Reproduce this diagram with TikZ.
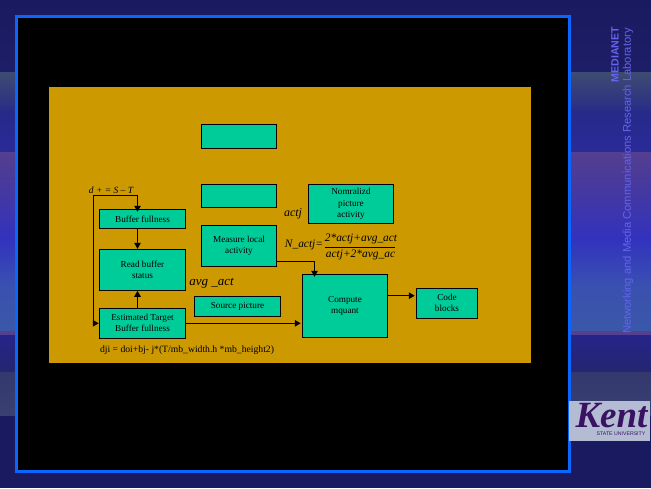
\documentclass[tikz,border=0pt]{standalone}
\usepackage{fontspec}
\setmainfont{Liberation Serif}
\newfontfamily\sidefont{Liberation Sans}
\usetikzlibrary{arrows.meta,calc}
\definecolor{gold}{HTML}{CC9900}
\definecolor{boxfill}{HTML}{00CC99}
\definecolor{framecol}{HTML}{0A66FF}
\definecolor{sidetext}{HTML}{6464EC}
\definecolor{logobg}{HTML}{B4BCD4}
\definecolor{kentpurple}{HTML}{3A1262}
\tikzset{
  x=1pt,y=-1pt,
  box/.style={draw=black,line width=1pt,fill=boxfill,inner sep=0pt,align=center,
    font=\fontsize{9.2}{11}\selectfont},
  wire/.style={draw=black,line width=1pt},
  arrow/.style={wire,-{Triangle[length=6pt,width=6.5pt]}},
  lbl/.style={inner sep=0pt,font=\fontsize{12}{14}\selectfont\itshape},
  frac/.style={inner sep=0pt,font=\fontsize{11.4}{13}\selectfont\itshape},
  side/.style={inner sep=0pt,rotate=90,text=sidetext}
}
% one gradient segment of the backdrop, in 2-unit strips
\newcommand{\bandseg}[4]{%
  \definecolor{segA}{HTML}{#3}\definecolor{segB}{HTML}{#4}%
  \pgfmathtruncatemacro{\segn}{max(1,(#2-#1)/2)}%
  \foreach \i in {1,...,\segn}{%
    \pgfmathsetmacro{\segp}{100*(\i-0.5)/\segn}%
    \pgfmathsetmacro{\sega}{#1+(#2-#1)*(\i-1)/\segn}%
    \pgfmathsetmacro{\segb}{#1+(#2-#1)*\i/\segn+0.3}%
    \fill[segB!\segp!segA] (0,\sega) rectangle (651,\segb);
  }}
\begin{document}
\begin{tikzpicture}
\useasboundingbox (0,0) rectangle (651,488);
% background bands
\bandseg{0}{72}{1A1A60}{1E1E68}
\bandseg{72}{110}{3F4C72}{2A2E84}
\bandseg{110}{152}{262A88}{2A2A98}
\bandseg{152}{190}{54408F}{45389F}
\bandseg{190}{240}{45389F}{3232BE}
\bandseg{240}{285}{3232BE}{3A50B0}
\bandseg{285}{331}{3A50B0}{3A58A8}
\bandseg{331}{335}{54408F}{54408F}
\bandseg{335}{372}{25258A}{252570}
\bandseg{372}{416}{33386E}{3A4070}
\bandseg{416}{488}{1A1A60}{1A1A60}
% frame and panels
\draw[framecol,line width=3pt,fill=black] (16.5,16.5) rectangle (569.5,471.5);
\fill[gold] (49,87) rectangle (531,362.7);
% boxes
\node[box,minimum width=75.5pt,minimum height=24pt] (top) at (239,136.5) {};
\node[box,minimum width=75.5pt,minimum height=23.5pt] (second) at (239,196) {};
\node[box,minimum width=86.5pt,minimum height=19.5pt] (fullness) at (142.5,219) {Buffer fullness};
\node[box,minimum width=86.5pt,minimum height=41pt] (status) at (142.5,269.8) {Read buffer\\[0.5pt]status};
\node[box,minimum width=86.5pt,minimum height=30pt] (target) at (142.5,323.3) {Estimated Target\\Buffer fullness};
\node[box,minimum width=75.5pt,minimum height=41pt] (measure) at (239,245.8) {Measure local\\activity};
\node[box,minimum width=86.5pt,minimum height=20pt] (source) at (237.5,306.3) {Source picture};
\node[box,minimum width=85.5pt,minimum height=39pt] (norm) at (351,203.8) {Nomralizd\\[0.4pt]picture\\[0.4pt]activity};
\node[box,minimum width=85.5pt,minimum height=63pt] (mquant) at (345,305.8) {Compute\\mquant};
\node[box,minimum width=61.5pt,minimum height=30pt] (code) at (447,303.3) {Code\\blocks};
% labels
\node[lbl,font=\fontsize{9.5}{11}\selectfont\itshape] (dse) at (111,190) {d + = S -- T};
\coordinate (corner) at (93.5,195);
\coordinate (branch) at (137.5,195);
\node[lbl] (actj) at (293,213.5) {actj};
\node[lbl,font=\fontsize{13}{15}\selectfont\itshape] (navg) at (211.5,283.5) {avg \_act};
\node[frac] (nact) at (304,245) {N\_actj=};
\node[frac] (numer) at (361,238.5) {2*actj+avg\_act};
\node[frac] (denom) at (360.5,255) {actj+2*avg\_ac};
\draw[black,line width=0.8pt] (325,247.5) -- (395,247.5);
\node[inner sep=0pt,font=\fontsize{9.67}{12}\selectfont] (dji) at (187,350) {dji = doi+bj- j*(T/mb\_width.h *mb\_height2)};
% connectors
\draw[wire] (corner) -- (branch);
\draw[arrow,shorten >=-3pt] (branch) -- (branch |- fullness.north);
\draw[arrow] (corner) -- (corner |- target.west) -- (target.west);
\draw[arrow] (fullness.south -| branch) -- (status.north -| branch);
\draw[arrow] (target.north -| branch) -- (status.south -| branch);
\draw[arrow,shorten >=1pt] (target.east) -- (target.east -| mquant.west);
\coordinate (mbend) at (314.5,261.5);
\draw[arrow,shorten >=-3pt] (measure.east |- mbend) -- (mbend) -- (mbend |- mquant.north);
\coordinate (mqout) at (0,295.7);
\draw[arrow,shorten >=1pt] (mquant.east |- mqout) -- (code.west |- mqout);
% sidebar text
\node[side,font=\sidefont\bfseries\fontsize{10.6}{12}\selectfont] (media) at (615,54.5) {MEDIANET};
\node[side,font=\sidefont\fontsize{11.2}{13}\selectfont] (lab) at (628,181) {Networking and Media Communications Research Laboratory};
% logo
\fill[logobg] (569,401) rectangle (650,441);
\node[inner sep=0pt,text depth=0pt,anchor=base,text=kentpurple,font=\fontsize{37}{37}\bfseries\itshape] (kent) at (611.5,427) {Kent};
\node[inner sep=0pt,text=kentpurple,font=\sidefont\fontsize{5.2}{5}\selectfont] (state) at (621,434) {STATE UNIVERSITY};
\end{tikzpicture}
\end{document}
